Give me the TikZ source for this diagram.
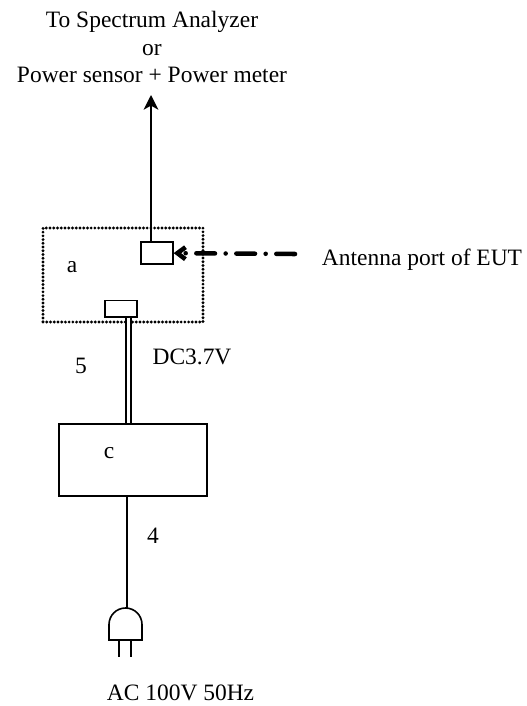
\documentclass[tikz,border=0pt]{standalone}
\usepackage{fontspec}
\setmainfont{Liberation Serif}
\usetikzlibrary{arrows.meta}

\begin{document}
\begin{tikzpicture}[
    % GLOBAL CFG
    x=0.75pt,
    y=-0.75pt,
    font=\fontsize{17.6}{20.6}\selectfont,
    >=Stealth,
    % Styles
    unit/.style={% For the main boxes
        rectangle,
        draw,
        line width=1.2pt,
        inner sep=0pt,
        },
    port/.style={% For the small connectors
        rectangle,
        draw,
        fill=white,
        line width=1pt,
        inner sep=0pt,
        },
    mylabel/.style={% Plain text labels
        inner sep=0pt,
        },
    ArrowC1/.style={% Thin connectors
        line width=1.2pt,
        },
    ]
    \useasboundingbox (0,0) rectangle (526,706);

    % Draw the dotted enclosure
    \node [unit, line width=2.4pt, line cap=round, dash pattern=on 0pt off 2.8pt, minimum width=120pt, minimum height=70.5pt] (eut) at (123,275) {};

    % Draw the ports
    \node [port, minimum width=24pt, minimum height=16.5pt] (ant_port) at (157,253) {};
    \node [port, minimum width=24pt, minimum height=12.5pt] (dc_port) at (121,308.5) {};

    % Draw the adapter
    \node [unit, minimum width=111pt, minimum height=54pt] (adapter) at (133,460) {};

    % Draw free ends
    \coordinate (analyzer) at (151,95);
    \coordinate (probe) at (295,254);
    \coordinate (plug_top) at (127,608);

    % Draw labels
    \node [mylabel, align=center] (analyzer_text) at (152,47) {To Spectrum Analyzer\\or\\Power sensor + Power meter};
    \node [mylabel] (a_text) at (72,267) {a};
    \node [mylabel] (c_text) at (109,453) {c};
    \node [mylabel] (five_text) at (81,366) {5};
    \node [mylabel] (four_text) at (153,536) {4};
    \node [mylabel] (dc_text) at (192,357) {DC3.7V};
    \node [mylabel] (antenna_text) at (422,260) {Antenna port of EUT};
    \node [mylabel] (ac_text) at (180.5,692.5) {AC 100V 50Hz};

    % Draw the plug
    \coordinate (plug_left) at (109,640);
    \coordinate (plug_right) at (142,640);
    \coordinate (pin_left) at (119,640);
    \coordinate (pin_right) at (131,640);
    \draw [ArrowC1] (plug_left) -- (109,624.5) arc[start angle=180, end angle=0, x radius=16.5, y radius=-16.5] -- (plug_right) -- cycle;
    \draw [ArrowC1] (pin_left) -- ++(0,17);
    \draw [ArrowC1] (pin_right) -- ++(0,17);

    % Start connecting all.
    \draw [-{Stealth[length=11pt, width=11pt, inset=3pt]}, ArrowC1] (ant_port.north -| analyzer) -- (analyzer);
    \draw [-{Straight Barb[length=6pt, width=9pt]}, line width=3.4pt, line cap=round, dash pattern=on 14pt off 8pt on 0pt off 8pt] (probe) -- (ant_port);
    \draw [ArrowC1, double, double distance=2.4pt] (dc_port.south -| 128.5,0) -- (adapter.north -| 128.5,0);
    \draw [ArrowC1] (adapter.south -| plug_top) -- (plug_top);

\end{tikzpicture}
\end{document}
